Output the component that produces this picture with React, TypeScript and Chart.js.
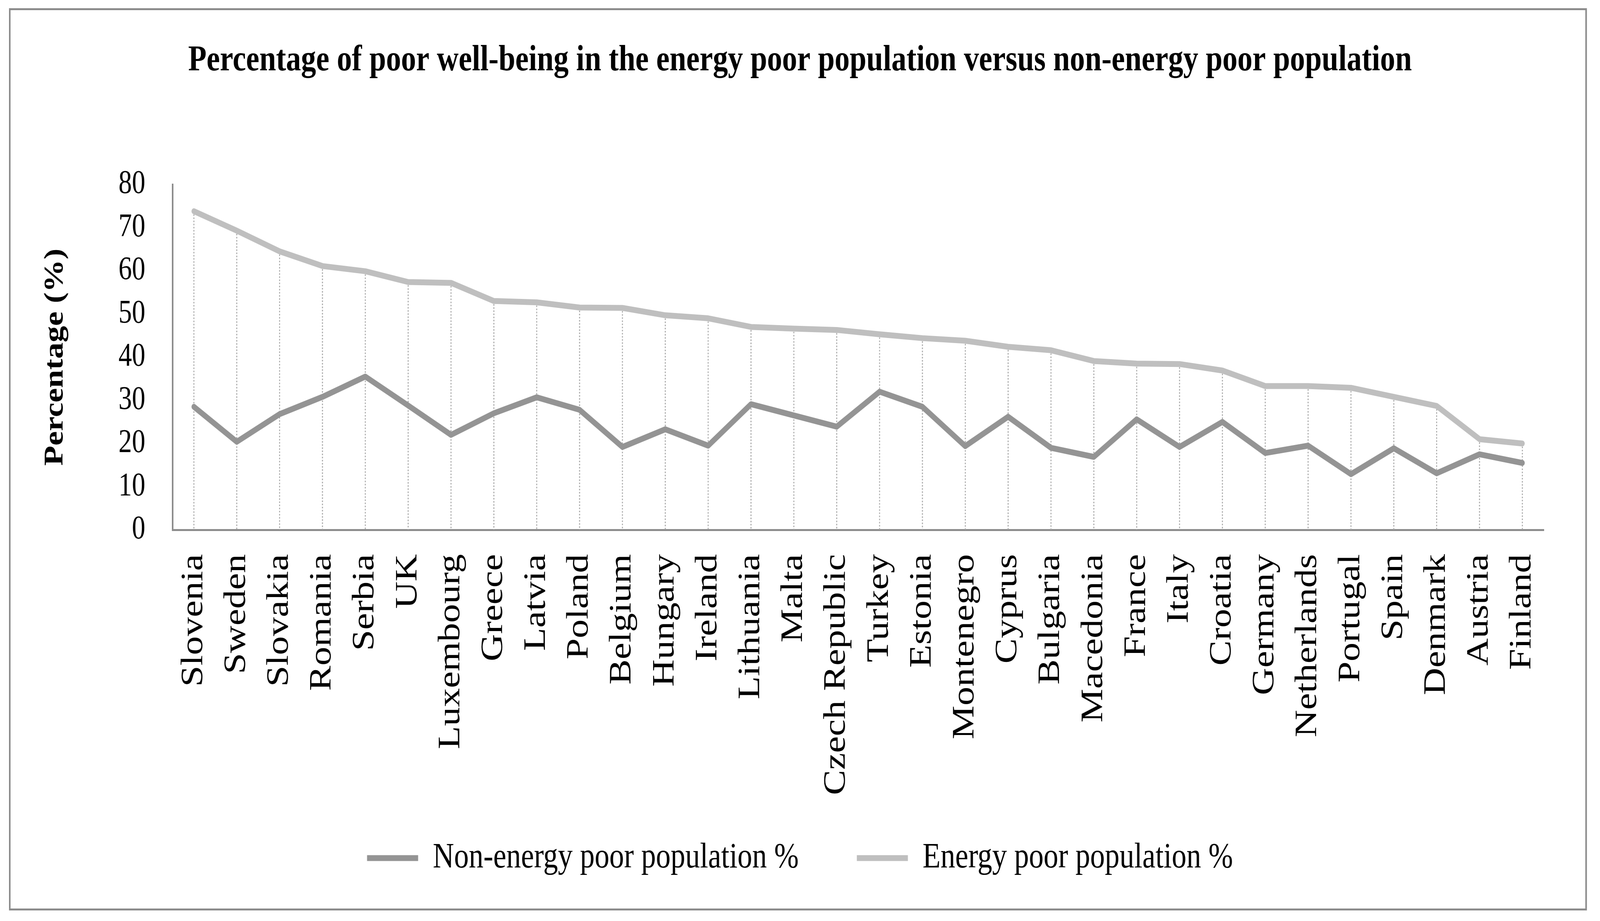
import React, { useEffect, useRef } from "react";
import { Chart, registerables } from "chart.js";

Chart.register(...registerables);

const countries = [
  "Slovenia", "Sweden", "Slovakia", "Romania", "Serbia", "UK", "Luxembourg", "Greece",
  "Latvia", "Poland", "Belgium", "Hungary", "Ireland", "Lithuania", "Malta", "Czech Republic",
  "Turkey", "Estonia", "Montenegro", "Cyprus", "Bulgaria", "Macedonia", "France", "Italy",
  "Croatia", "Germany", "Netherlands", "Portugal", "Spain", "Denmark", "Austria", "Finland",
];

const nonEnergyPoor = [
  28.5, 20.4, 26.8, 30.8, 35.5, 28.8, 22.0, 27.0,
  30.7, 27.8, 19.2, 23.3, 19.5, 29.1, 26.5, 23.9,
  32.0, 28.5, 19.4, 26.2, 19.0, 16.9, 25.6, 19.2,
  25.0, 17.8, 19.5, 12.9, 18.9, 13.1, 17.5, 15.5,
];

const energyPoor = [
  73.8, 69.3, 64.5, 61.1, 59.9, 57.4, 57.2, 53.0,
  52.7, 51.5, 51.4, 49.7, 49.0, 47.0, 46.6, 46.3,
  45.3, 44.4, 43.8, 42.4, 41.6, 39.1, 38.5, 38.4,
  36.9, 33.3, 33.3, 32.9, 30.8, 28.7, 21.0, 20.0,
];

const seriesNames = ["Non-energy poor population %", "Energy poor population %"];
const chartTitle = "Percentage of poor well-being in the energy poor population versus non-energy poor population";
const yAxisTitle = "Percentage (%)";
const Y_MIN = 0;
const Y_MAX = 80;
const Y_STEP = 10;

const W = 5010;
const H = 2357;
const FONT = "'Liberation Serif', 'DejaVu Serif', serif";

const dropLinesPlugin = {
  id: "dropLines",
  beforeDatasetsDraw(chart: any) {
    const { ctx, scales } = chart;
    const x = scales.x;
    const y = scales.y;
    const n = chart.data.labels.length;
    ctx.save();
    ctx.strokeStyle = "#a6a6a6";
    ctx.lineWidth = 3;
    ctx.setLineDash([4, 4]);
    for (let i = 0; i < n; i++) {
      const top = Math.max(...chart.data.datasets.map((d: any) => d.data[i]));
      const px = x.getPixelForValue(i);
      ctx.beginPath();
      ctx.moveTo(px, y.getPixelForValue(top));
      ctx.lineTo(px, y.getPixelForValue(Y_MIN));
      ctx.stroke();
    }
    ctx.restore();
  },
};

const framePlugin = {
  id: "frame",
  afterDraw(chart: any) {
    const { ctx } = chart;
    ctx.save();
    ctx.strokeStyle = "#8c8c8c";
    ctx.lineWidth = 5;
    ctx.strokeRect(30.5, 23.5, chart.width - 74, chart.height - 53);
    ctx.restore();
  },
};

function getViewport() {
  if (typeof window === "undefined") return { vw: W, vh: H };
  const vw = window.innerWidth || W;
  const vh = window.innerHeight || H;
  return { vw, vh };
}

export default function App() {
  const canvasRef = useRef<HTMLCanvasElement | null>(null);
  const { vw, vh } = getViewport();
  const sx = vw / W;
  const sy = vh / H;

  useEffect(() => {
    if (!canvasRef.current) return;

    const lineStyle = {
      borderWidth: 15,
      borderCapStyle: "round",
      borderJoinStyle: "round",
      pointRadius: 0,
      pointHoverRadius: 0,
      tension: 0,
      fill: false,
    };

    const chart = new Chart(canvasRef.current, {
      type: "line",
      data: {
        labels: countries,
        datasets: [
          {
            label: seriesNames[0],
            data: nonEnergyPoor,
            borderColor: "#949494",
            backgroundColor: "#949494",
            ...lineStyle,
          },
          {
            label: seriesNames[1],
            data: energyPoor,
            borderColor: "#bfbfbf",
            backgroundColor: "#bfbfbf",
            ...lineStyle,
          },
        ],
      },
      options: {
        animation: false,
        responsive: false,
        devicePixelRatio: Math.max(1, window.devicePixelRatio || 1),
        layout: { padding: { left: 176, right: 176, top: 0, bottom: 105 } },
        plugins: {
          tooltip: { enabled: false },
          title: {
            display: true,
            text: chartTitle,
            color: "#000000",
            font: { family: FONT, size: 94, weight: "bold", lineHeight: 1.2 },
            padding: { top: 99.4, bottom: 259.8 },
          },
          legend: {
            display: true,
            position: "bottom",
            title: {
              display: true,
              text: "",
              font: { family: FONT, size: 1, lineHeight: 1 },
              padding: { top: -93, bottom: 0 },
            },
            labels: {
              usePointStyle: true,
              pointStyle: "line",
              pointStyleWidth: 160,
              color: "#000000",
              font: { family: FONT, size: 92 },
              padding: 182,
            },
          },
        },
        scales: {
          x: {
            type: "category",
            offset: true,
            grid: { display: false, drawTicks: false },
            border: { display: true, color: "#8c8c8c", width: 5 },
            ticks: {
              autoSkip: false,
              minRotation: 90,
              maxRotation: 90,
              padding: 62,
              color: "#000000",
              font: { family: FONT, size: 97 },
            },
            afterFit(scale: any) {
              scale.height = 704;
            },
          },
          y: {
            min: Y_MIN,
            max: Y_MAX,
            grid: { display: false, drawTicks: false },
            border: { display: true, color: "#8c8c8c", width: 5 },
            ticks: {
              stepSize: Y_STEP,
              padding: 85,
              color: "#000000",
              font: { family: FONT, size: 84 },
            },
            title: {
              display: true,
              text: yAxisTitle,
              color: "#000000",
              font: { family: FONT, size: 84, weight: "bold", lineHeight: 1.2 },
              padding: { top: -52, bottom: 0 },
            },
            afterFit(scale: any) {
              scale.width = 364;
            },
          },
        },
      },
      plugins: [dropLinesPlugin, framePlugin],
    } as any);
    return () => chart.destroy();
  }, []);

  return (
    <div
      style={{
        position: "absolute",
        left: 0,
        top: 0,
        width: vw,
        height: vh,
        overflow: "hidden",
        background: "#ffffff",
      }}
    >
      <div
        style={{
          width: W,
          height: H,
          transform: `scale(${sx}, ${sy})`,
          transformOrigin: "0 0",
        }}
      >
        <canvas
          ref={canvasRef}
          width={W}
          height={H}
          style={{ width: W, height: H, display: "block" }}
        />
      </div>
    </div>
  );
}
